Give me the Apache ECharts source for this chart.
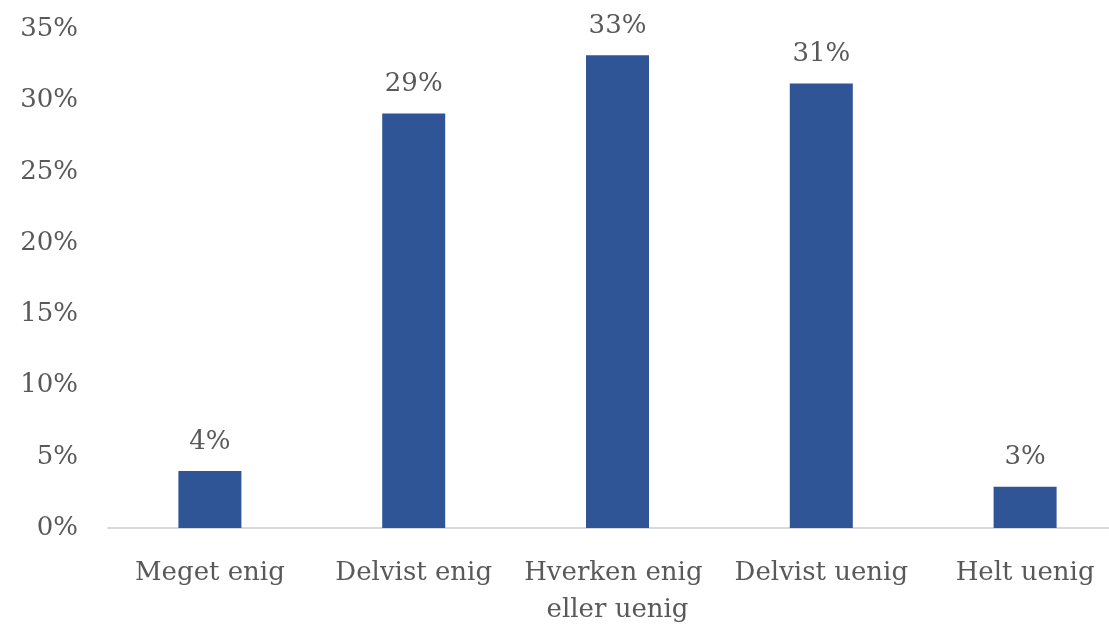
<!DOCTYPE html>
<html>
<head>
<meta charset="utf-8">
<script src="https://cdn.jsdelivr.net/npm/echarts@6/dist/echarts.min.js"></script>
<style>
html,body{margin:0;padding:0;background:#fff;overflow:hidden;}
#c{width:1128px;height:629px;}
</style>
</head>
<body>
<div id="c"></div>
<script>
var categories = ["Meget enig", "Delvist enig", "Hverken enig eller uenig", "Delvist uenig", "Helt uenig"];
var values = [4.0, 29.1, 33.2, 31.2, 2.9];
var yTicks = [0, 5, 10, 15, 20, 25, 30, 35];

var FONT = "DejaVu Serif";
var chart = echarts.init(document.getElementById('c'));
chart.setOption({
  animation: false,
  grid: { left: 108, top: 29.5, right: 0, bottom: 99.5, containLabel: false },
  xAxis: {
    type: 'category',
    data: categories,
    axisLine: { show: true, lineStyle: { color: '#D9D9D9', width: 2 } },
    axisTick: { show: false },
    axisLabel: {
      interval: 0,
      margin: 27,
      color: '#595959',
      fontFamily: FONT,
      fontSize: 26,
      lineHeight: 37,
      width: 200,
      overflow: 'break'
    }
  },
  yAxis: {
    type: 'value',
    min: yTicks[0],
    max: yTicks[yTicks.length - 1],
    interval: 5,
    splitLine: { show: false },
    axisLine: { show: false },
    axisTick: { show: false },
    axisLabel: {
      margin: 30,
      color: '#595959',
      fontFamily: FONT,
      fontSize: 26,
      formatter: function (v) { return v + '%'; }
    }
  },
  series: [{
    type: 'bar',
    data: values,
    barWidth: 63,
    itemStyle: { color: '#2F5597' },
    label: {
      show: true,
      position: 'top',
      distance: 16,
      color: '#595959',
      fontFamily: FONT,
      fontSize: 26,
      formatter: function (p) { return Math.round(p.value) + '%'; }
    }
  }]
});
</script>
</body>
</html>
